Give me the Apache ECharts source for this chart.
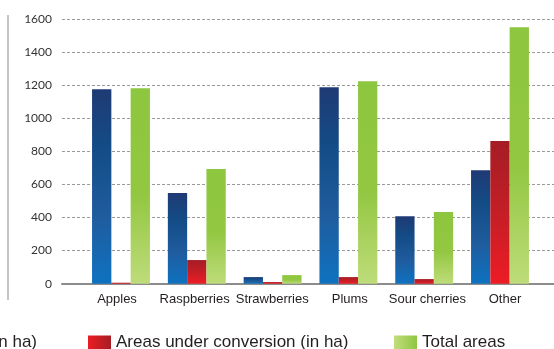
<!DOCTYPE html>
<html>
<head>
<meta charset="utf-8">
<script src="https://cdn.jsdelivr.net/npm/echarts@6/dist/echarts.min.js"></script>
<style>
  html, body { margin: 0; padding: 0; background: #ffffff; }
  #chart { width: 554px; height: 349px; }
</style>
</head>
<body>
<div id="chart"></div>
<script>
// Fruit areas by crop (hectares)
const categories = ['Apples', 'Raspberries', 'Strawberries', 'Plums', 'Sour cherries', 'Other'];
const organicAreas = [1176, 548, 40, 1188, 408, 686];
const conversionAreas = [6, 143, 10, 40, 28, 862];
const totalAreas = [1182, 693, 52, 1223, 433, 1550];
const yTicks = { min: 0, max: 1600, interval: 200 };

const seriesNames = ['Areas in organic status (in ha)', 'Areas under conversion (in ha)', 'Total areas'];

function vGrad(stops) {
  return new echarts.graphic.LinearGradient(0, 0, 0, 1, stops.map((c) => ({ offset: c[0], color: c[1] })));
}
function hGrad(stops) {
  return new echarts.graphic.LinearGradient(0, 0, 1, 0, stops.map((c) => ({ offset: c[0], color: c[1] })));
}

const blueFill = vGrad([[0, '#1f3a74'], [0.3, '#134c86'], [0.65, '#1f5c9e'], [1, '#0e72c0']]);
const redFill = vGrad([[0, '#a51d24'], [0.5, '#c41e26'], [1, '#ed1c24']]);
const greenFill = vGrad([[0, '#8dc63f'], [0.55, '#93c742'], [1, '#bedc7a']]);

const legendText = { fontFamily: 'Liberation Sans, Arial, sans-serif', fontSize: 17, color: '#231f20' };
const legendBase = {
  orient: 'horizontal', top: 334, itemWidth: 23, itemHeight: 14, itemGap: 5,
  icon: 'rect', selectedMode: false, textStyle: legendText, padding: 0
};

const chart = echarts.init(document.getElementById('chart'), null, { renderer: 'canvas' });

const gridTop = 19, gridBottom = 65.3;

chart.setOption({
  animation: false,
  backgroundColor: '#ffffff',
  grid: [
    { left: 62, right: 0, top: gridTop, bottom: gridBottom },        // value scale, rules, baseline
    { left: 83.1, right: 16.1, top: gridTop, bottom: gridBottom },   // bars
    { left: 78.2, right: 10.2, top: gridTop, bottom: gridBottom }    // category labels
  ],
  xAxis: [
    {
      gridIndex: 0, type: 'value', min: 0, max: 1,
      axisLine: { show: true, lineStyle: { color: '#8c8c8c', width: 2 } },
      axisTick: { show: false }, axisLabel: { show: false }, splitLine: { show: false }
    },
    {
      gridIndex: 1, type: 'category', data: categories,
      axisLine: { show: false }, axisTick: { show: false }, axisLabel: { show: false }
    },
    {
      gridIndex: 2, type: 'category', data: categories,
      axisLine: { show: false }, axisTick: { show: false },
      axisLabel: {
        margin: 9, interval: 0,
        fontFamily: 'Liberation Sans, Arial, sans-serif', fontSize: 13, color: '#231f20'
      }
    }
  ],
  yAxis: [
    {
      gridIndex: 0, type: 'value', min: yTicks.min, max: yTicks.max, interval: yTicks.interval,
      axisLine: { show: false }, axisTick: { show: false },
      axisLabel: {
        margin: 10, fontFamily: 'Lato, sans-serif', fontSize: 12, color: '#333333',
        formatter: (v) => String(v)
      },
      splitLine: { show: true, lineStyle: { color: '#9a9a9a', width: 1, type: [3, 2] } }
    },
    {
      gridIndex: 1, type: 'value', min: yTicks.min, max: yTicks.max, interval: yTicks.interval,
      show: false
    },
    {
      gridIndex: 2, type: 'value', min: yTicks.min, max: yTicks.max, interval: yTicks.interval,
      show: false
    }
  ],
  legend: [
    Object.assign({}, legendBase, {
      right: 517,
      data: [{ name: seriesNames[0], itemStyle: { color: hGrad([[0, '#0e72c0'], [1, '#1f3a74']]) } }]
    }),
    Object.assign({}, legendBase, {
      left: 88,
      data: [{ name: seriesNames[1], itemStyle: { color: hGrad([[0, '#ed1c24'], [1, '#a51d24']]) } }]
    }),
    Object.assign({}, legendBase, {
      left: 394,
      data: [{ name: seriesNames[2], itemStyle: { color: hGrad([[0, '#c2de7e'], [1, '#8dc63f']]) } }]
    })
  ],
  graphic: [
    {
      type: 'line', shape: { x1: 8, y1: 15, x2: 8, y2: 300 },
      style: { stroke: '#b3b3b3', lineWidth: 1.5 }, silent: true
    }
  ],
  series: [
    {
      name: seriesNames[0], type: 'bar', xAxisIndex: 1, yAxisIndex: 1,
      data: organicAreas, barWidth: 19.3, barGap: '0%',
      itemStyle: { color: blueFill }
    },
    {
      name: seriesNames[1], type: 'bar', xAxisIndex: 1, yAxisIndex: 1,
      data: conversionAreas, barWidth: 19.3, barGap: '0%',
      itemStyle: { color: redFill }
    },
    {
      name: seriesNames[2], type: 'bar', xAxisIndex: 1, yAxisIndex: 1,
      data: totalAreas, barWidth: 19.3, barGap: '0%',
      itemStyle: { color: greenFill }
    }
  ]
});
</script>
</body>
</html>
